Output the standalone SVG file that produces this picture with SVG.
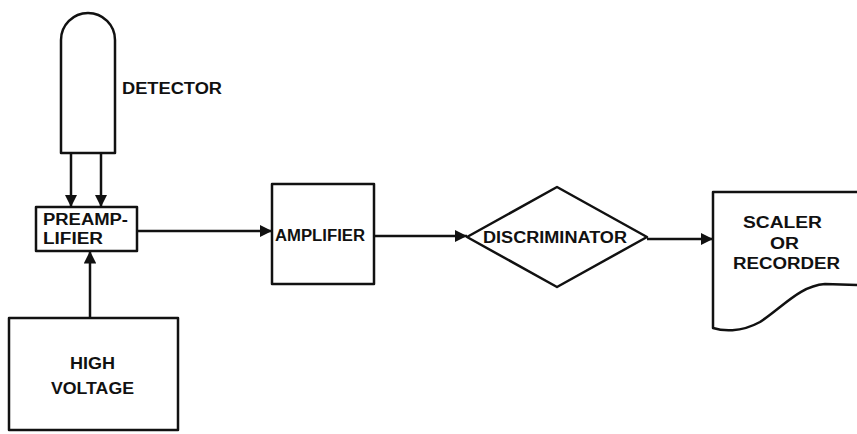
<svg xmlns="http://www.w3.org/2000/svg" width="857" height="434" viewBox="0 0 857 434">
<defs>
<style>
.s{fill:none;stroke:#111;stroke-width:2.5;stroke-linejoin:round}
.t{font-family:"Liberation Sans",Arial,sans-serif;font-weight:bold;font-size:16px;fill:#111}
.c{stroke:#111;stroke-width:2.5;fill:none}
</style>
<marker id="ah" viewBox="0 0 10 10" refX="10" refY="5" markerWidth="5" markerHeight="5" markerUnits="strokeWidth" orient="auto">
<path d="M0,0 L10,5 L0,10 Z" fill="#111"/>
</marker>
</defs>
<rect width="857" height="434" fill="#fff"/>
<g id="detector">
<path class="s" d="M61,153 L61,40 A27,27 0 0 1 115,40 L115,153 Z"/>
<text class="t" x="122" y="94" textLength="100" lengthAdjust="spacingAndGlyphs">DETECTOR</text>
</g>
<g id="preamplifier">
<rect class="s" x="36" y="207" width="101" height="44"/>
<text class="t" x="43" y="225" textLength="85" lengthAdjust="spacingAndGlyphs">PREAMP-</text>
<text class="t" x="43" y="244" textLength="60" lengthAdjust="spacingAndGlyphs">LIFIER</text>
</g>
<g id="highvoltage">
<rect class="s" x="9" y="318" width="169" height="112"/>
<text class="t" x="70" y="369" textLength="45" lengthAdjust="spacingAndGlyphs">HIGH</text>
<text class="t" x="51" y="394" textLength="83" lengthAdjust="spacingAndGlyphs">VOLTAGE</text>
</g>
<g id="amplifier">
<rect class="s" x="272" y="184" width="102" height="100"/>
<text class="t" x="275" y="241" textLength="90" lengthAdjust="spacingAndGlyphs">AMPLIFIER</text>
</g>
<g id="discriminator">
<path class="s" d="M467,237 L557,187 L647,237 L557,287 Z"/>
<text class="t" x="483" y="243" textLength="144" lengthAdjust="spacingAndGlyphs">DISCRIMINATOR</text>
</g>
<g id="scaler">
<path class="s" d="M857,192 L713,192 L713,328 C722,331 740,333 760,322 C785,305 800,286 825,284 L857,285"/>
<text class="t" x="743" y="228" textLength="79" lengthAdjust="spacingAndGlyphs">SCALER</text>
<text class="t" x="770" y="249" textLength="29" lengthAdjust="spacingAndGlyphs">OR</text>
<text class="t" x="733" y="269" textLength="107" lengthAdjust="spacingAndGlyphs">RECORDER</text>
</g>
<g id="connectors">
<line class="c" x1="71" y1="153" x2="71" y2="207" marker-end="url(#ah)"/>
<line class="c" x1="101" y1="153" x2="101" y2="207" marker-end="url(#ah)"/>
<line class="c" x1="90" y1="318" x2="90" y2="251" marker-end="url(#ah)"/>
<line class="c" x1="137" y1="231" x2="272" y2="231" marker-end="url(#ah)"/>
<line class="c" x1="374" y1="236" x2="467" y2="236" marker-end="url(#ah)"/>
<line class="c" x1="647" y1="239" x2="713" y2="239" marker-end="url(#ah)"/>
</g>
</svg>
